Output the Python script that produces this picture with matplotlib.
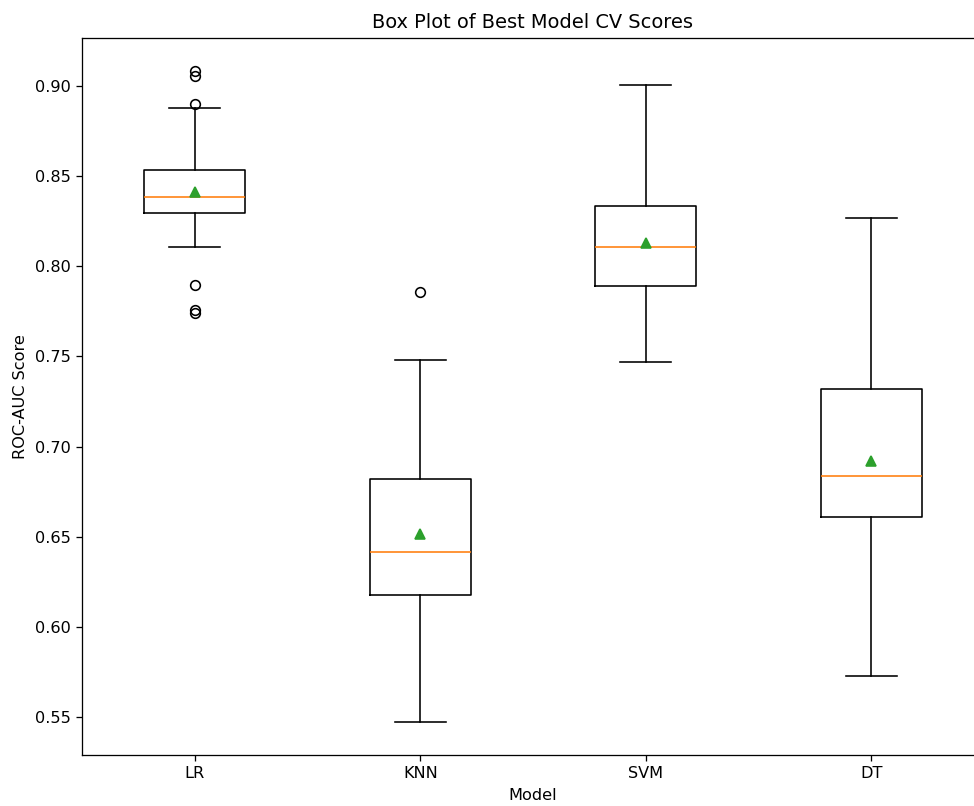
import matplotlib
matplotlib.use("Agg")
import matplotlib.pyplot as plt

models = ["LR", "KNN", "SVM", "DT"]
q1 = [0.8296, 0.6177, 0.7891, 0.6610]
median = [0.8384, 0.6415, 0.8107, 0.6837]
q3 = [0.8534, 0.6820, 0.8334, 0.7320]
whisker_low = [0.8107, 0.5473, 0.7469, 0.5728]
whisker_high = [0.8878, 0.7480, 0.9006, 0.8268]
means = [0.8412, 0.6515, 0.8129, 0.6920]
fliers = [
    [0.9085, 0.9055, 0.8900, 0.7896, 0.7755, 0.7742],
    [0.7857],
    [],
    [],
]

stats = []
for i, m in enumerate(models):
    stats.append(dict(label=m, q1=q1[i], med=median[i], q3=q3[i],
                      whislo=whisker_low[i], whishi=whisker_high[i],
                      mean=means[i], fliers=fliers[i]))

DPI = 116
fig = plt.figure(figsize=(974 / DPI, 806 / DPI), dpi=DPI)
ax = fig.add_axes([82/974, 51/806, 902/974, 717/806])
ax.bxp(stats, showmeans=True)
ax.set_ylim(0.5289, 0.9266)
ax.set_xlim(0.5, 4.5)
ax.set_title("Box Plot of Best Model CV Scores")
ax.set_xlabel("Model")
ax.set_ylabel("ROC-AUC Score")
fig.savefig("out.png", dpi=DPI)
